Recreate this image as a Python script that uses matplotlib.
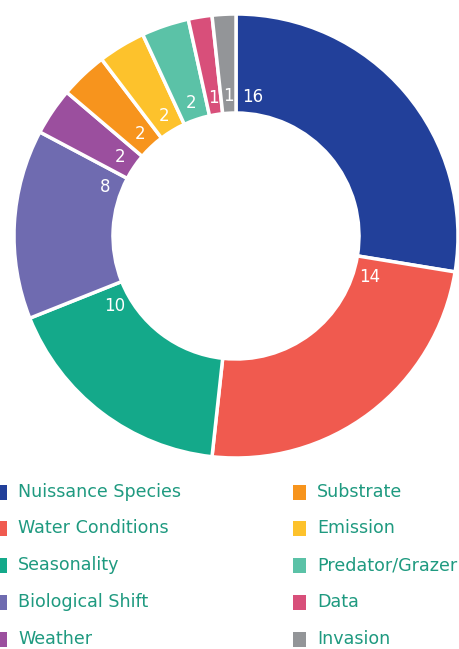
import numpy as np
import matplotlib.pyplot as plt
from matplotlib.patches import Rectangle

# causes and how many times each came up
causes = ['Nuissance Species', 'Water Conditions', 'Seasonality', 'Biological Shift', 'Weather',
          'Substrate', 'Emission', 'Predator/Grazer', 'Data', 'Invasion']
counts = [16, 14, 10, 8, 2, 2, 2, 2, 1, 1]
colors = ['#22409A', '#F05A4F', '#14A98A', '#6F6BB0', '#9B4F9E',
          '#F7941D', '#FDC22C', '#5BC2A7', '#D84F7A', '#939598']
text_col = '#1F9A80'

# where along each slice the number sits (0 = start, 1 = end, clockwise)
lab_frac = [0.07, 0.09, 0.87, 0.85, 0.5, 0.5, 0.5, 0.5, 0.5, 0.5]

W, H = 460, 649
fig = plt.figure(figsize=(W / 100, H / 100), dpi=100)

# donut axes: centre (236, 236) px, outer radius 222 px
cx, cy, R = 236, 236, 222
ax = fig.add_axes([(cx - R) / W, (H - cy - R) / H, 2 * R / W, 2 * R / H])
ring = (222 - 123) / 222
ax.pie(counts, colors=colors, startangle=90, counterclock=False, radius=1,
       wedgeprops=dict(width=ring, edgecolor='white', linewidth=2.5))
ax.set_xlim(-1, 1)
ax.set_ylim(-1, 1)
ax.set_aspect('equal')
ax.axis('off')

# value labels just inside the hole edge
total = sum(counts)
start = 0.0
r_lab = 140 / 222
for n, f in zip(counts, lab_frac):
    span = n / total * 360
    t = np.radians(start + f * span)
    ax.text(r_lab * np.sin(t), r_lab * np.cos(t), str(n), color='white',
            fontsize=12, ha='center', va='center')
    start += span

# legend in pixel coordinates
lg = fig.add_axes([0, 0, 1, 1])
lg.set_xlim(0, W)
lg.set_ylim(H, 0)
lg.axis('off')
rows = [492, 528, 565, 602, 639]
for i, (name, c) in enumerate(zip(causes, colors)):
    col, row = divmod(i, 5)
    x0 = -6 if col == 0 else 293
    y = rows[row]
    lg.add_patch(Rectangle((x0, y - 7.5), 13, 15, color=c, lw=0))
    lg.text(x0 + 24, y, name, color=text_col, fontsize=12.6, va='center', ha='left')

fig.savefig('out.png', dpi=100)
